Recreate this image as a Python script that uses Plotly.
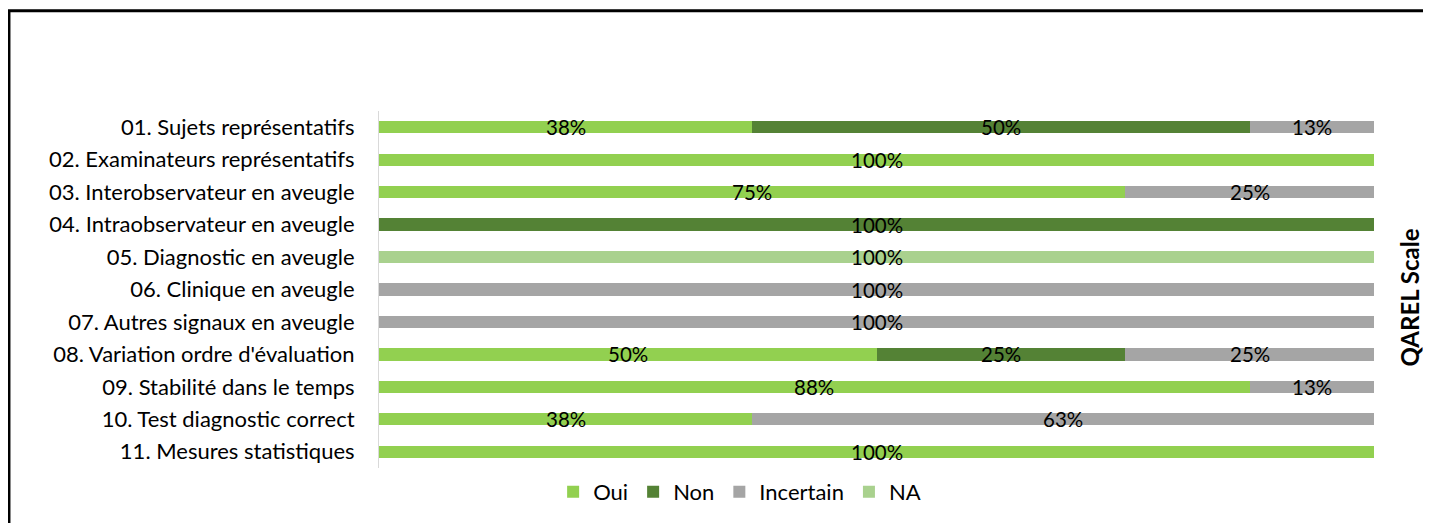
import math
import plotly.graph_objects as go

categories = [
    "01. Sujets représentatifs",
    "02. Examinateurs représentatifs",
    "03. Interobservateur en aveugle",
    "04. Intraobservateur en aveugle",
    "05. Diagnostic en aveugle",
    "06. Clinique en aveugle",
    "07. Autres signaux en aveugle",
    "08. Variation ordre d'évaluation",
    "09. Stabilité dans le temps",
    "10. Test diagnostic correct",
    "11. Mesures statistiques",
]

oui =       [37.5, 100, 75,   None, None, None, None, 50,   87.5, 37.5, 100]
non =       [50,   None, None, 100, None, None, None, 25,   None, None, None]
incertain = [12.5, None, 25,   None, None, 100, 100,  25,   12.5, 62.5, None]
na =        [None, None, None, None, 100,  None, None, None, None, None, None]

series_names = ["Oui", "Non", "Incertain", "NA"]
series_values = [oui, non, incertain, na]
series_colors = ["#92D050", "#548235", "#A5A5A5", "#A9D18E"]

axis_title = "QAREL Scale"

FONT = "Lato"

fig = go.Figure()
for name, vals, col in zip(series_names, series_values, series_colors):
    fig.add_trace(go.Bar(
        y=categories, x=vals, name=name, orientation="h",
        marker=dict(color=col, line=dict(width=0)),
        hoverinfo="skip",
    ))

annotations = []
for i, cat in enumerate(categories):
    cum = 0.0
    for vals in series_values:
        v = vals[i]
        if v is None:
            continue
        annotations.append(dict(
            x=cum + v / 2, y=cat, xref="x", yref="y",
            text=f"{math.floor(v + 0.5)}%", showarrow=False,
            font=dict(family=FONT, size=20.5, color="#000000"),
            xanchor="center", yanchor="middle", yshift=0,
        ))
        cum += v

annotations.append(dict(
    x=1.036, y=0.477, xref="paper", yref="paper", text=f"<b>{axis_title}</b>",
    textangle=-90, showarrow=False, xanchor="center", yanchor="middle",
    font=dict(family=FONT, size=24, color="#000000"),
))

fig.update_layout(
    width=1431, height=523,
    barmode="stack", bargap=0.62,
    plot_bgcolor="white", paper_bgcolor="white",
    margin=dict(l=371, r=65, t=103, b=63, autoexpand=False),
    font=dict(family=FONT, size=22, color="#000000"),
    xaxis=dict(range=[0, 100], visible=False, showgrid=False, zeroline=False),
    yaxis=dict(
        autorange="reversed", showline=True, linecolor="#D9D9D9", linewidth=1,
        showgrid=False, ticks="", ticklabelstandoff=19,
        tickfont=dict(family=FONT, size=22, color="#000000"),
    ),
    legend=dict(
        orientation="h", x=0.175, y=-0.067, xanchor="left", yanchor="middle",
        font=dict(family=FONT, size=22, color="#000000"),
        traceorder="normal", itemwidth=30,
    ),
    annotations=annotations,
    shapes=[dict(
        type="rect", xref="paper", yref="paper",
        x0=-0.3719, x1=1.3, y0=1.2808, y1=-0.5,
        line=dict(color="#000000", width=3), fillcolor="rgba(0,0,0,0)",
    )],
    showlegend=True,
)

fig.write_html("out.html")
